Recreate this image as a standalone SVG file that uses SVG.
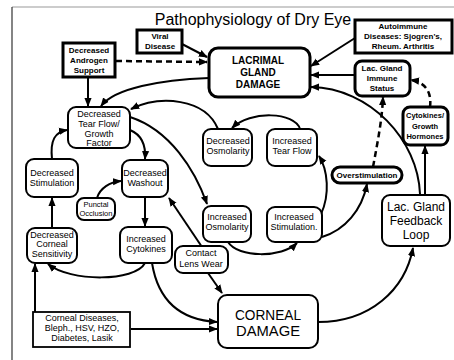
<svg xmlns="http://www.w3.org/2000/svg" width="454" height="360" viewBox="0 0 454 360">
<style>
text{font-family:"Liberation Sans",Arial,sans-serif;fill:#000;text-anchor:middle}
.t{font-size:9px}
.s{font-size:7.5px}
.b{font-size:8px;font-weight:bold}
.big{font-size:10px;font-weight:bold}
.r{fill:#fff;stroke:#000;stroke-width:2}
.k{fill:#fff;stroke:#000;stroke-width:3}
.c path{fill:none;stroke:#000;stroke-width:2}
.c .d{stroke-dasharray:6 4;stroke-width:2.5}
</style>
<defs>
<marker id="ah" viewBox="0 0 10 10" refX="9" refY="5" markerWidth="9" markerHeight="9" markerUnits="userSpaceOnUse" orient="auto">
<path d="M0,1 L10,5 L0,9 z" fill="#000"/>
</marker>
</defs>
<rect width="454" height="360" fill="#fff"/>
<g id="frame">
<line x1="12" y1="7" x2="454" y2="7" stroke="#999" stroke-width="1"/>
<line x1="12" y1="7" x2="12" y2="360" stroke="#333" stroke-width="1.2"/>
</g>
<text x="253" y="25" style="font-size:16px">Pathophysiology of Dry Eye</text>

<g class="c" id="connectors" marker-end="url(#ah)">
<path d="M182 44 L207 57"/>
<path class="d" d="M116 61 L207 62"/>
<path d="M88 78 L88 106"/>
<path d="M209 78 C160 80,115 88,101 106"/>
<path d="M355 38 L311 66"/>
<path d="M355 75 L311 75"/>
<path d="M420 194 C418 140,370 88,311 87"/>
<path d="M425 195 L425 146"/>
<path class="d" d="M430 107 C432 92,425 82,411 80"/>
<path class="d" d="M373 167 C378 140,382 120,383 97"/>
<path d="M322 237 C345 230,362 210,367 184"/>
<path d="M321 214 C330 195,328 170,319 156"/>
<path d="M300 129 C295 112,250 110,232 128"/>
<path d="M218 129 C205 98,160 95,131 109"/>
<path d="M130 117 C170 130,195 170,207 204"/>
<path d="M130 130 C142 135,146 145,145 159"/>
<path d="M52 159 C50 140,55 132,67 130"/>
<path d="M97 198 C100 188,110 182,121 181"/>
<path d="M145 197 L145 226"/>
<path d="M52 228 L52 198"/>
<path d="M145 263 C135 282,70 282,48 264"/>
<path d="M152 263 C158 300,180 320,217 322"/>
<path d="M131 329 L217 329"/>
<path d="M35 312 L35 264"/>
<path d="M202 247 L169 198"/>
<path d="M208 273 L222 293"/>
<path d="M228 242 C238 258,282 258,297 243"/>
<path d="M318 322 C370 322,405 290,413 248"/>
</g>

<g id="viral"><rect class="k" x="137" y="30" width="45" height="23"/>
<text class="b" x="160" y="39">Viral</text><text class="b" x="160" y="49">Disease</text></g>

<g id="androgen"><rect class="k" x="63" y="43" width="52" height="34"/>
<text class="b" x="89" y="53">Decreased</text><text class="b" x="89" y="63">Androgen</text><text class="b" x="89" y="73">Support</text></g>

<g id="lacrimal"><rect class="k" x="209" y="48" width="101" height="49" rx="9"/>
<text class="big" x="258" y="64">LACRIMAL</text><text class="big" x="258" y="76">GLAND</text><text class="big" x="258" y="88">DAMAGE</text></g>

<g id="autoimmune"><rect class="k" x="355" y="20" width="97" height="33"/>
<text class="b" x="403" y="29">Autoimmune</text><text class="b" x="403" y="39">Diseases: Sjogren's,</text><text class="b" x="403" y="49">Rheum. Arthritis</text></g>

<g id="immune"><rect class="k" x="355" y="61" width="55" height="35" rx="7"/>
<text class="b" x="382" y="71">Lac. Gland</text><text class="b" x="382" y="81">Immune</text><text class="b" x="382" y="91">Status</text></g>

<g id="cytohormones"><rect class="k" x="403" y="107" width="45" height="38" rx="7"/>
<text class="b" x="425" y="118" style="font-size:7.5px">Cytokines/</text><text class="b" x="425" y="129" style="font-size:7.5px">Growth</text><text class="b" x="425" y="139" style="font-size:7.5px">Hormones</text></g>

<g id="overstim"><rect class="k" x="332" y="167" width="70" height="16" rx="8"/>
<text class="b" x="367" y="178">Overstimulation</text></g>

<g id="feedback"><rect class="r" x="382" y="195" width="68" height="51" rx="8"/>
<text x="416" y="211" style="font-size:12px">Lac. Gland</text><text x="416" y="225" style="font-size:12px">Feedback</text><text x="416" y="239" style="font-size:12px">Loop</text></g>

<g id="tearflow"><rect class="r" x="68" y="107" width="62" height="41" rx="8"/>
<text class="t" x="99" y="117">Decreased</text><text class="t" x="99" y="127">Tear Flow/</text><text class="t" x="99" y="137">Growth</text><text class="t" x="99" y="146">Factor</text></g>

<g id="decstim"><rect class="r" x="26" y="159" width="52" height="38" rx="8"/>
<text class="t" x="52" y="176">Decreased</text><text class="t" x="52" y="186">Stimulation</text></g>

<g id="washout"><rect class="r" x="122" y="160" width="46" height="37" rx="8"/>
<text class="t" x="145" y="176">Decreased</text><text class="t" x="145" y="186">Washout</text></g>

<g id="punctal"><rect class="r" x="77" y="198" width="38" height="22" rx="7"/>
<text class="s" x="96" y="207">Punctal</text><text class="s" x="96" y="216">Occlusion</text></g>

<g id="decosm"><rect class="r" x="203" y="129" width="49" height="37" rx="8"/>
<text class="t" x="228" y="144">Decreased</text><text class="t" x="228" y="154">Osmolarity</text></g>

<g id="inctear"><rect class="r" x="267" y="129" width="50" height="37" rx="8"/>
<text class="t" x="292" y="144">Increased</text><text class="t" x="292" y="154">Tear Flow</text></g>

<g id="incosm"><rect class="r" x="203" y="206" width="48" height="36" rx="8"/>
<text class="t" x="227" y="220">Increased</text><text class="t" x="227" y="230">Osmolarity</text></g>

<g id="incstim"><rect class="r" x="267" y="207" width="55" height="35" rx="8"/>
<text class="t" x="294" y="220">Increased</text><text class="t" x="294" y="230">Stimulation.</text></g>

<g id="sensitivity"><rect class="r" x="27" y="228" width="50" height="35" rx="8"/>
<text class="t" x="52" y="238">Decreased</text><text class="t" x="52" y="247">Corneal</text><text class="t" x="52" y="257">Sensitivity</text></g>

<g id="cytokines"><rect class="r" x="120" y="227" width="52" height="36" rx="8"/>
<text class="t" x="146" y="242">Increased</text><text class="t" x="146" y="252">Cytokines</text></g>

<g id="contact"><rect class="r" x="175" y="246" width="53" height="27" rx="8"/>
<text class="t" x="201" y="256">Contact</text><text class="t" x="201" y="267">Lens Wear</text></g>

<g id="cornealdis"><rect x="33" y="312" width="97" height="35" fill="#fff" stroke="#000" stroke-width="1.8"/>
<text class="t" x="82" y="321">Corneal Diseases,</text><text class="t" x="82" y="331">Bleph., HSV, HZO,</text><text class="t" x="82" y="341">Diabetes, Lasik</text></g>

<g id="corneal"><rect class="r" x="218" y="295" width="100" height="53" rx="9"/>
<text x="268" y="320" style="font-size:15px" textLength="66" lengthAdjust="spacingAndGlyphs">CORNEAL</text><text x="268" y="336" style="font-size:15px" textLength="64" lengthAdjust="spacingAndGlyphs">DAMAGE</text></g>
</svg>
